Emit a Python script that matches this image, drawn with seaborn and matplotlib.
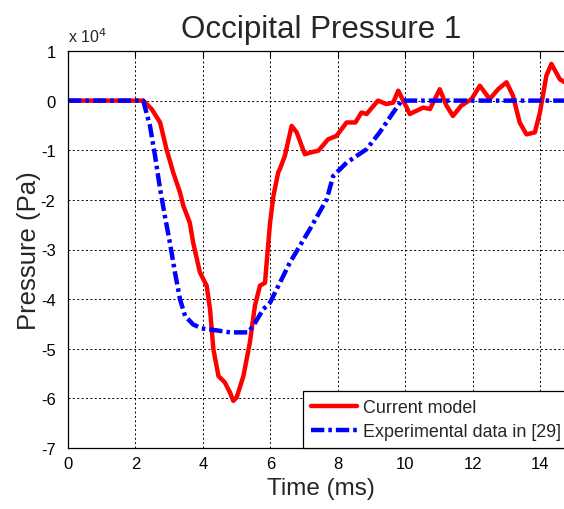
import numpy as np
import pandas as pd
import matplotlib
matplotlib.use("Agg")
import matplotlib.pyplot as plt
import seaborn as sns

# ---- data (time in ms, pressure in Pa) ----
model_t = [0.0, 2.23, 2.48, 2.73, 2.92, 3.12, 3.32, 3.42, 3.61, 3.71, 3.91, 4.11, 4.21,
           4.31, 4.46, 4.65, 4.80, 4.90, 5.00, 5.20, 5.39, 5.54, 5.69, 5.84, 5.89, 5.99,
           6.09, 6.23, 6.28, 6.43, 6.63, 6.78, 7.02, 7.22, 7.42, 7.71, 7.96, 8.26, 8.52,
           8.70, 8.85, 9.19, 9.44, 9.64, 9.79, 10.04, 10.13, 10.53, 10.73, 11.02, 11.22,
           11.41, 11.66, 11.96, 12.21, 12.50, 12.75, 13.00, 13.19, 13.39, 13.59, 13.84,
           13.99, 14.18, 14.33, 14.58, 14.80]
model_p = [0, 0, -1700, -4400, -9800, -14500, -18500, -21200, -24600, -28600, -34600,
           -37300, -42000, -50100, -55500, -56800, -58800, -60500, -59800, -55500, -48800,
           -41400, -37300, -36700, -32600, -24600, -19200, -14500, -13800, -11100, -5100,
           -6400, -10800, -10400, -10100, -7800, -7100, -4400, -4400, -2400, -2700, 0,
           -700, -400, 2000, -1400, -2700, -1400, -1700, 2300, -1000, -3100, -1000, 300,
           3000, 300, 2300, 3700, 1000, -4400, -6800, -6400, -2400, 5000, 7400, 4300, 3400]

exp_t = [0.0, 2.23, 2.43, 2.58, 2.73, 2.87, 3.02, 3.17, 3.32, 3.47, 3.71, 3.96, 4.31,
         4.80, 5.34, 5.49, 5.79, 5.99, 6.58, 7.17, 7.67, 7.86, 8.26, 8.85, 9.24, 9.64,
         9.89, 14.80]
exp_p = [0, 0, -5100, -11100, -17800, -23200, -28600, -34600, -40000, -43400, -45100,
         -45900, -46200, -46700, -46700, -45400, -42000, -40700, -32600, -25900, -19900,
         -15200, -12500, -9800, -6400, -2400, 0, 0]

series_names = ["Current model", "Experimental data in [29]"]
title = "Occipital Pressure 1"
x_label = "Time (ms)"
y_label = "Pressure (Pa)"
x_ticks = [0, 2, 4, 6, 8, 10, 12, 14]
y_ticks = [1, 0, -1, -2, -3, -4, -5, -6, -7]

df = pd.concat([
    pd.DataFrame({"t": model_t, "p": np.array(model_p) / 1e4, "s": series_names[0]}),
    pd.DataFrame({"t": exp_t, "p": np.array(exp_p) / 1e4, "s": series_names[1]}),
], ignore_index=True)

sns.set_style("white")
plt.rcParams["font.family"] = ["Liberation Sans", "DejaVu Sans"]
plt.rcParams["axes.unicode_minus"] = False

fig = plt.figure(figsize=(5.64, 5.10), dpi=100)
W, H = 564, 510
left, right, top, bottom = 68, 574, 52, 449
ax = fig.add_axes([left / W, (H - bottom) / H, (right - left) / W, (bottom - top) / H])

sns.lineplot(data=df, x="t", y="p", hue="s", style="s", sort=False, estimator=None,
             palette={series_names[0]: "#ff0000", series_names[1]: "#0000ff"},
             dashes={series_names[0]: "", series_names[1]: (3, 0.9, 0.8, 0.9)},
             linewidth=3.2, ax=ax, legend=True)

ax.set_xlim(0, 15)
ax.set_ylim(-7, 1)
ax.set_xticks(x_ticks)
ax.set_yticks(y_ticks)
ax.set_xticklabels([str(v) for v in x_ticks], fontsize=12)
ax.set_yticklabels([str(v) for v in y_ticks], fontsize=12)
ax.tick_params(direction="in", length=4, width=0.8, top=True, right=True, color="black",
               labelcolor="black")
ax.tick_params(axis="x", pad=6)
ax.tick_params(axis="y", pad=9)
ax.grid(True, color="black", linestyle=(0, (2, 2.5)), linewidth=0.7)
for sp in ax.spines.values():
    sp.set_color("black")
    sp.set_linewidth(0.9)

ax.set_title(title, fontsize=22.5, pad=10)
ax.set_xlabel(x_label, fontsize=17.5, labelpad=4)
ax.set_ylabel(y_label, fontsize=18.5, labelpad=0)
ax.text(0.0, 1.015, "x 10$^4$", transform=ax.transAxes, fontsize=11.5, ha="left", va="bottom")

handles, labels = ax.get_legend_handles_labels()
leg = ax.legend(handles, labels, loc="lower left", bbox_to_anchor=((303 - 68) / 506, 0.0),
                borderaxespad=0.0, fontsize=12.9, handlelength=2.55, frameon=True,
                fancybox=False, edgecolor="black", framealpha=1.0, borderpad=0.45,
                labelspacing=0.4, handletextpad=0.35)
leg.get_frame().set_linewidth(0.9)

fig.savefig("out.png", dpi=100)
